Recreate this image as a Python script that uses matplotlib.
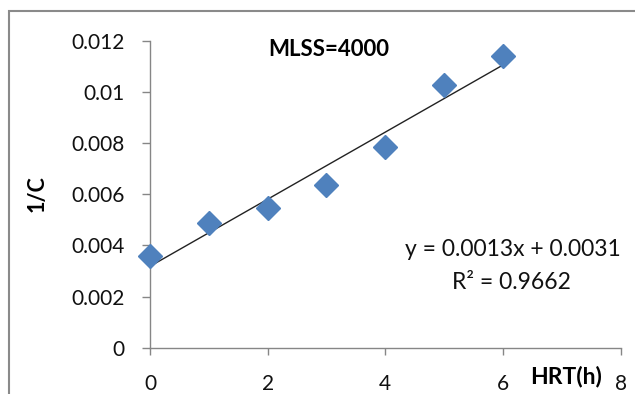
import matplotlib
matplotlib.use("Agg")
import matplotlib.pyplot as plt
import numpy as np
from matplotlib.patches import Rectangle

plt.rcParams['font.family'] = ['Lato', 'DejaVu Sans']

hrt = [0, 1, 2, 3, 4, 5, 6]
inv_c = [0.00359, 0.00487, 0.00545, 0.00637, 0.00786, 0.01028, 0.01143]
x_ticks = [0, 2, 4, 6, 8]
y_ticks = [0, 0.002, 0.004, 0.006, 0.008, 0.01, 0.012]
y_tick_labels = ['0', '0.002', '0.004', '0.006', '0.008', '0.01', '0.012']
title_text = 'MLSS=4000'
eq_text = 'y = 0.0013x + 0.0031'
r2_text = 'R² = 0.9662'

W, H = 635, 394
fig = plt.figure(figsize=(W / 100, H / 100), dpi=100)
fig.patch.set_facecolor('white')

# outer chart border (cropped Excel chart area)
fig.patches.append(Rectangle((9 / W, -0.1), 1.2, (H - 11) / H + 0.1,
                             transform=fig.transFigure, fill=False,
                             edgecolor='#8a8a8a', linewidth=1.5))

ax = fig.add_axes([150 / W, (H - 347.7) / H, 470.5 / W, 306.7 / H])
ax.set_xlim(0, 8)
ax.set_ylim(0, 0.012)

gray = '#868686'
for s in ['top', 'right']:
    ax.spines[s].set_visible(False)
for s in ['left', 'bottom']:
    ax.spines[s].set_color(gray)
    ax.spines[s].set_linewidth(1.0)

ax.set_xticks(x_ticks)
ax.set_xticklabels([str(t) for t in x_ticks])
ax.set_yticks(y_ticks)
ax.set_yticklabels(y_tick_labels)
ax.tick_params(axis='y', length=6, width=1, color=gray, pad=12.5,
               labelsize=15, labelcolor='#111111')
ax.tick_params(axis='x', length=5, width=1, color=gray, pad=14,
               labelsize=15, labelcolor='#111111')

# trendline
coef = np.polyfit(hrt, inv_c, 1)
xs = np.array([hrt[0], hrt[-1]])
ax.plot(xs, np.polyval(coef, xs), color='#222222', linewidth=1.0, zorder=2)

ax.plot(hrt, inv_c, linestyle='none', marker='D', markersize=12,
        color='#4f81bd', markeredgecolor='#4f81bd', clip_on=False, zorder=3)

ax.text(0.379, 0.9707, title_text, transform=ax.transAxes, ha='center',
        va='center', fontsize=16, fontweight='bold', color='#000000')
ax.text(0.7705, 0.3186, eq_text, transform=ax.transAxes, ha='center',
        va='center', fontsize=16.5, color='#111111')
ax.text(0.7685, 0.2142, r2_text, transform=ax.transAxes, ha='center',
        va='center', fontsize=16.5, color='#111111')
ax.text(0.884, -0.0955, 'HRT(h)', transform=ax.transAxes, ha='center',
        va='center', fontsize=16.5, fontweight='bold', color='#000000')

ax.set_ylabel('1/C', fontsize=15.5, fontweight='bold', color='#000000')
ax.yaxis.set_label_coords(-0.218, 0.501)

fig.savefig('out.png', dpi=100)
